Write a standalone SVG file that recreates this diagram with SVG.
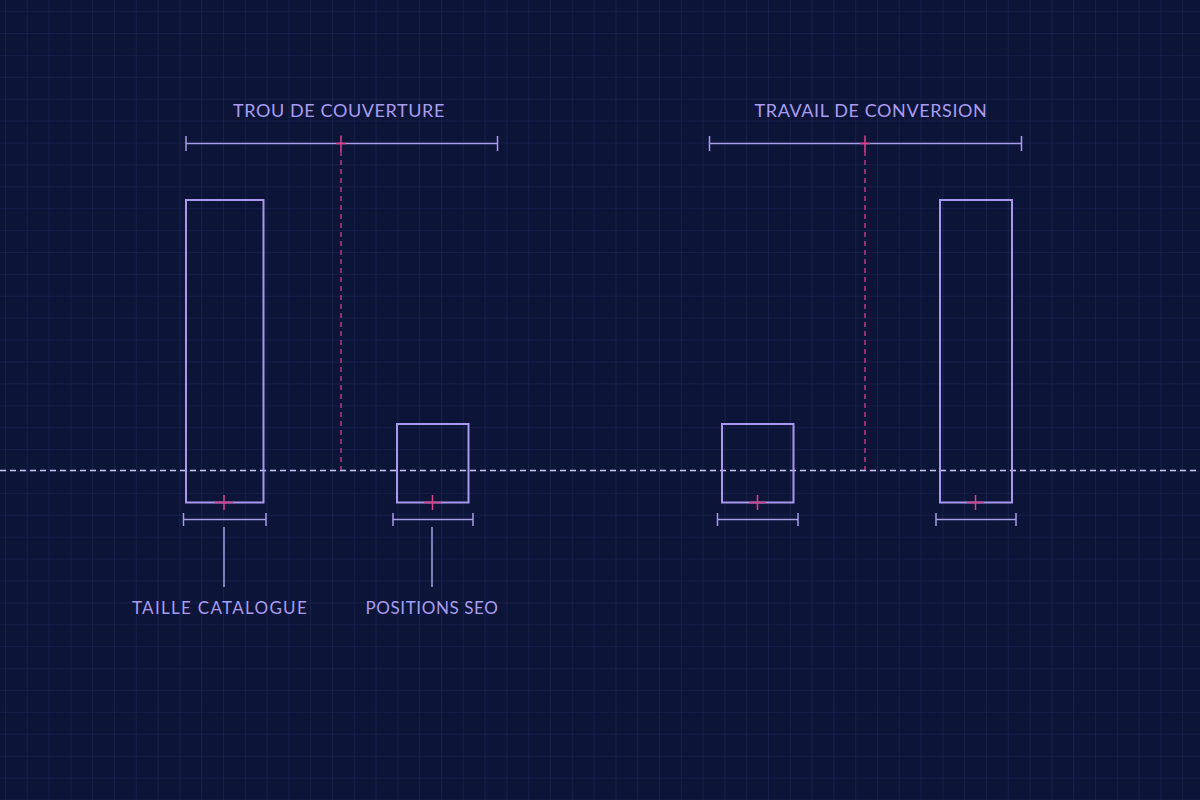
<svg xmlns="http://www.w3.org/2000/svg" width="1200" height="800" viewBox="0 0 1200 800">
<defs>
<pattern id="grid" x="5" y="11.1" width="21.8" height="21.9" patternUnits="userSpaceOnUse">
<path d="M0 0 V21.9 M0 0 H21.8" fill="none" stroke="#1c2756" stroke-width="1.2"/>
</pattern>
</defs>
<style>
.bar{fill:none;stroke:#a999ee;stroke-width:2}
.dim{fill:none;stroke:#a79ce6;stroke-width:1.5}
.pink{fill:none;stroke:#e0408a;stroke-width:1.5}
.pdash{fill:none;stroke:#d6408a;stroke-width:1.3;stroke-dasharray:5 4}
.base{fill:none;stroke:#c9c6ee;stroke-width:1.3;stroke-dasharray:6 4}
.t{font-family:Lato,"Liberation Sans",sans-serif;fill:#a99df0;letter-spacing:0.6px}
</style>
<rect width="1200" height="800" fill="#0c1438"/>
<rect width="1200" height="800" fill="url(#grid)"/>

<g id="connectors">
<line class="base" x1="0" y1="470.5" x2="1200" y2="470.5"/>
<line class="pdash" x1="341" y1="151" x2="341" y2="470"/>
<line class="pdash" x1="865" y1="151" x2="865" y2="470"/>
<line class="dim" x1="224" y1="527" x2="224" y2="587"/>
<line class="dim" x1="432" y1="527" x2="432" y2="587"/>
</g>

<g id="trou-de-couverture">
<text class="t" x="339" y="117" font-size="18" text-anchor="middle">TROU DE COUVERTURE</text>
<path class="dim" d="M186 143.5 H497.5 M186 136 V151 M497.5 136 V151"/>
<path class="pink" d="M341 135.5 V151.5 M336 143.5 H346"/>
</g>

<g id="travail-de-conversion">
<text class="t" x="871" y="117" font-size="18" text-anchor="middle">TRAVAIL DE CONVERSION</text>
<path class="dim" d="M709.5 143.5 H1021.5 M709.5 136 V151 M1021.5 136 V151"/>
<path class="pink" d="M865 135.5 V151.5 M860 143.5 H870"/>
</g>

<g id="taille-catalogue">
<rect class="bar" x="186" y="200" width="77.5" height="302.5"/>
<path class="pink" d="M224 495 V510 M215 502.5 H233"/>
<path class="dim" d="M183.5 519.5 H266 M183.5 513 V526 M266 513 V526"/>
<text class="t" x="220" y="614" font-size="17" text-anchor="middle" style="letter-spacing:1.3px">TAILLE CATALOGUE</text>
</g>

<g id="positions-seo">
<rect class="bar" x="397" y="424" width="71.5" height="78.5"/>
<path class="pink" d="M432.5 495 V510 M424 502.5 H441"/>
<path class="dim" d="M393 519.5 H473 M393 513 V526 M473 513 V526"/>
<text class="t" x="432" y="614" font-size="17" text-anchor="middle">POSITIONS SEO</text>
</g>

<g id="conversion-small">
<rect class="bar" x="722" y="424" width="71.5" height="78.5"/>
<path class="pink" d="M757.5 495 V510 M749 502.5 H766"/>
<path class="dim" d="M717.5 519.5 H798 M717.5 513 V526 M798 513 V526"/>
</g>

<g id="conversion-tall">
<rect class="bar" x="940" y="200" width="72" height="302.5"/>
<path class="pink" d="M975.5 495 V510 M967 502.5 H984"/>
<path class="dim" d="M936 519.5 H1016 M936 513 V526 M1016 513 V526"/>
</g>
</svg>
